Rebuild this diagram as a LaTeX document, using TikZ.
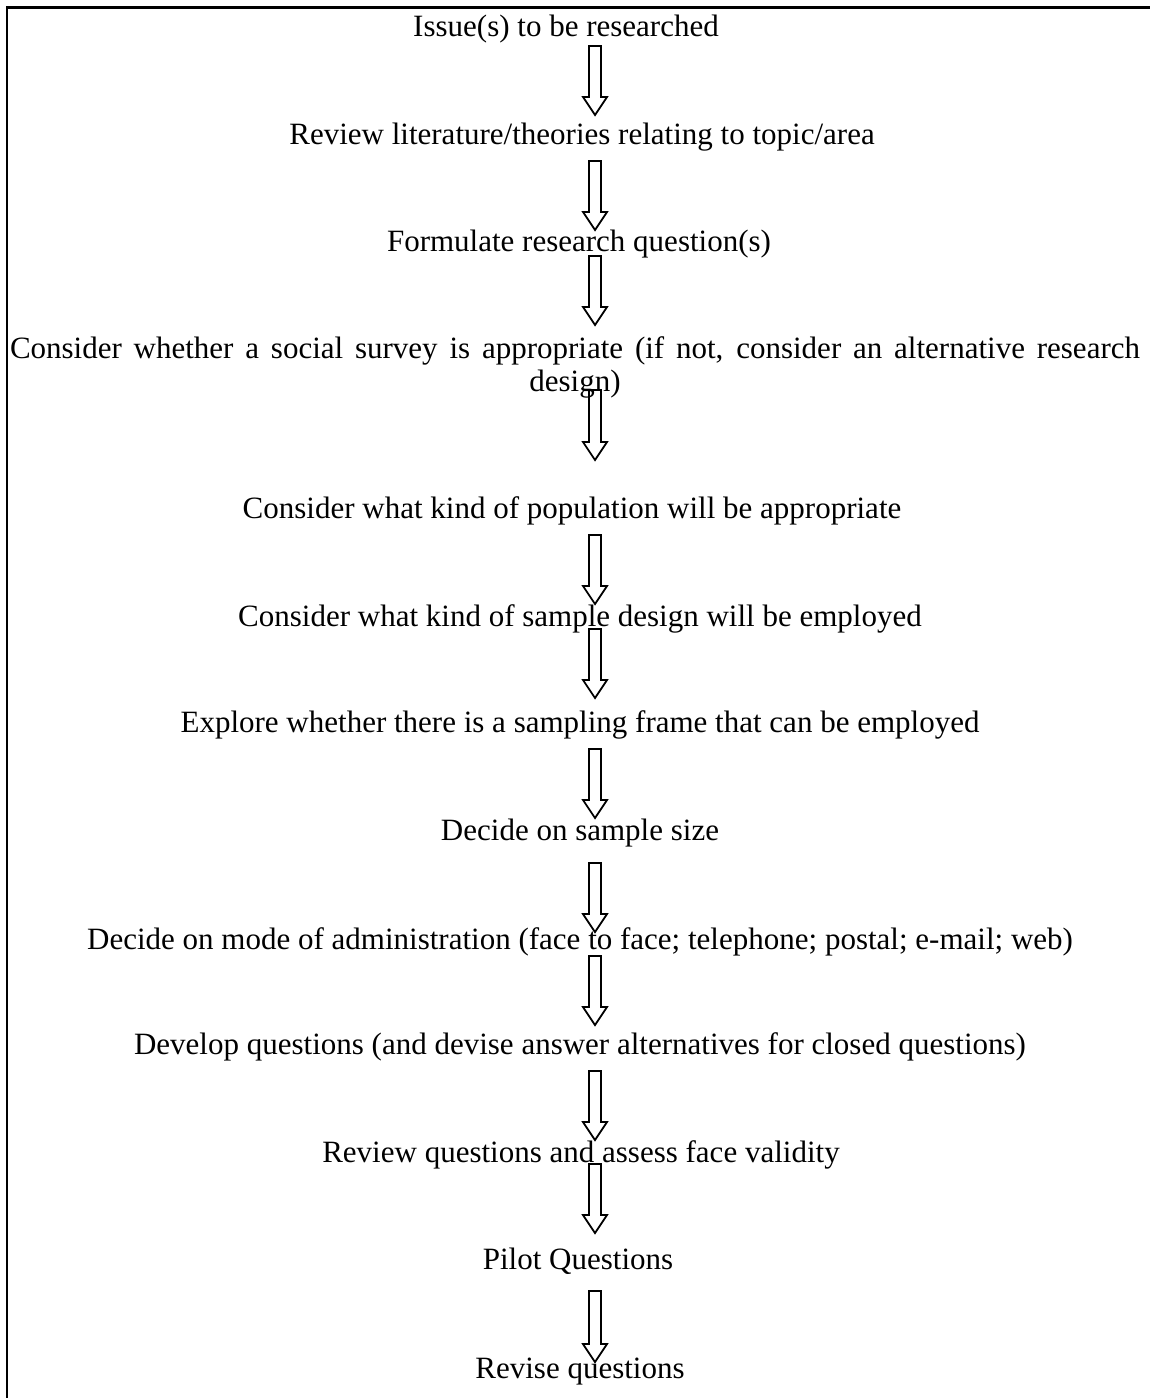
\documentclass[tikz,border=0pt]{standalone}
\usepackage{fontspec}
\setmainfont{Liberation Serif}
\usetikzlibrary{calc}
\tikzset{
  lbl/.style={anchor=base, inner sep=0pt, font=\fontsize{31}{33}\selectfont},
  blockarrow/.style={draw=black, line width=1.8pt, line join=miter},
  frame/.style={draw=black, line width=2.2pt}
}
\newcommand\blkarrow[2]{%
  \draw[blockarrow] ($(#1)+(-6,0)$) -- ($(#1)+(6,0)$) -- ($(#2)+(6,-18)$) -- ($(#2)+(12,-18)$) -- (#2)
    -- ($(#2)+(-12,-18)$) -- ($(#2)+(-6,-18)$) -- cycle;}
\begin{document}
\begin{tikzpicture}[x=1pt,y=-1pt]
\useasboundingbox (0,0) rectangle (1150,1398);
% frame
\coordinate (fbl) at (7,1398);
\coordinate (ftl) at (7,7.5);
\coordinate (ftr) at (1150,7.5);
\draw[frame] (fbl) -- (ftl) -- (ftr);
% texts
\node[lbl] (t1) at (566,36) {Issue(s) to be researched};
\node[lbl] (t2) at (582,144) {Review literature/theories relating to topic/area};
\node[lbl] (t3) at (579,251) {Formulate research question(s)};
\node[lbl] (t4a) at (575,358) {\makebox[1130pt][s]{Consider whether a social survey is appropriate (if not, consider an alternative research}};
\node[lbl] (t4b) at (575,391) {design)};
\node[lbl] (t5) at (572,518) {Consider what kind of population will be appropriate};
\node[lbl] (t6) at (580,626) {Consider what kind of sample design will be employed};
\node[lbl] (t7) at (580,732) {Explore whether there is a sampling frame that can be employed};
\node[lbl] (t8) at (580,840) {Decide on sample size};
\node[lbl] (t9) at (580,949) {Decide on mode of administration (face to face; telephone; postal; e-mail; web)};
\node[lbl] (t10) at (580,1054) {Develop questions (and devise answer alternatives for closed questions)};
\node[lbl] (t11) at (581,1162) {Review questions and assess face validity};
\node[lbl] (t12) at (578,1269) {Pilot Questions};
\node[lbl] (t13) at (580,1378) {Revise questions};
% arrows
\coordinate (a1s) at (595,46);   \coordinate (a1e) at (595,115);
\coordinate (a2s) at (595,161);  \coordinate (a2e) at (595,230);
\coordinate (a3s) at (595,256);  \coordinate (a3e) at (595,325);
\coordinate (a4s) at (595,390);  \coordinate (a4e) at (595,460);
\coordinate (a5s) at (595,535);  \coordinate (a5e) at (595,604);
\coordinate (a6s) at (595,629);  \coordinate (a6e) at (595,698);
\coordinate (a7s) at (595,749);  \coordinate (a7e) at (595,818);
\coordinate (a8s) at (595,863);  \coordinate (a8e) at (595,932);
\coordinate (a9s) at (595,956);  \coordinate (a9e) at (595,1025);
\coordinate (a10s) at (595,1071); \coordinate (a10e) at (595,1140);
\coordinate (a11s) at (595,1164); \coordinate (a11e) at (595,1233);
\coordinate (a12s) at (595,1291); \coordinate (a12e) at (595,1362);
\foreach \i in {1,...,12} {\blkarrow{a\i s}{a\i e}}
\end{tikzpicture}
\end{document}
